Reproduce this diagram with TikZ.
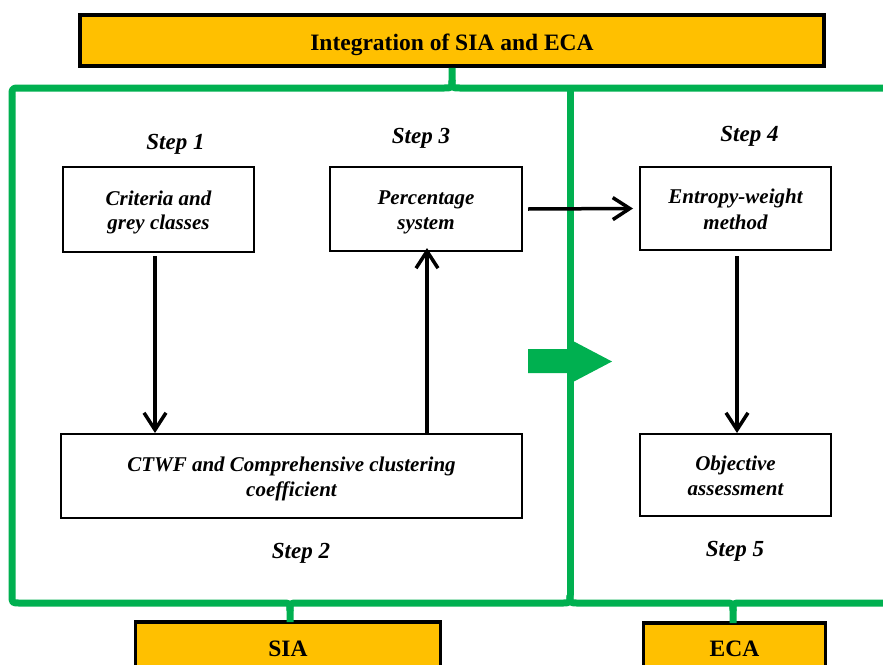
\documentclass[tikz,border=0pt]{standalone}
\usepackage{fontspec}
\setmainfont{Liberation Serif}
\usetikzlibrary{arrows.meta}
\definecolor{gbar}{HTML}{00B050}
\definecolor{ybox}{HTML}{FFC000}
\newcommand\lnstrut{\rule[-4pt]{0pt}{24pt}}
\tikzset{
  wbox/.style={draw=black, line width=2pt, fill=white, align=center, inner sep=0pt,
    font=\fontsize{21}{24}\selectfont\bfseries\itshape},
  ybbox/.style={draw=black, line width=3.5pt, fill=ybox, align=center, inner sep=0pt,
    text height=16pt, text depth=0pt, font=\fontsize{23.5}{26}\selectfont\bfseries},
  steplabel/.style={font=\fontsize{23}{26}\selectfont\bfseries\itshape, inner sep=0pt, anchor=base},
  flow/.style={line width=3.5pt, -{Straight Barb[length=17pt,width=22pt,line width=3.5pt]}},
  gline/.style={draw=gbar, line width=7pt, line join=round},
}
\begin{document}
\begin{tikzpicture}[x=1pt,y=-1pt]
\path[use as bounding box, clip] (0,0) rectangle (883,664);

% yellow boxes
\node[ybbox, minimum width=744pt, minimum height=51pt, text height=20pt] (top) at (452,40.5) {Integration of SIA and ECA};
\node[ybbox, minimum width=305pt, minimum height=52pt] (sia) at (288,648) {SIA};
\node[ybbox, minimum width=182pt, minimum height=52pt, text height=14pt] (eca) at (734.5,649) {ECA};

% green braces
\coordinate (tl) at (12,96);
\coordinate (tc) at (452,80);
\coordinate (mb) at (570,595);
\coordinate (sc) at (290,611);
\coordinate (ec) at (733,611);
\coordinate (siatop) at (290,622);
\coordinate (ecatop) at (733,623);

\draw[gline] (tl) .. controls (12,88) .. (20,88) -- (444,88) .. controls (452,88) .. (tc) -- (top.south);
\draw[gline] (tc) .. controls (452,88) .. (460,88) -- (900,88);
\draw[gline] (tl) -- (12,595) .. controls (12,603) .. (20,603) -- (282,603) .. controls (290,603) .. (sc) -- (siatop);
\draw[gline] (sc) .. controls (290,603) .. (298,603) -- (562,603) .. controls (570,603) .. (mb);
\draw[gline] (570,88) -- (mb);
\draw[gline] (mb) .. controls (570,603) .. (578,603) -- (725,603) .. controls (733,603) .. (ec) -- (ecatop);
\draw[gline] (ec) .. controls (733,603) .. (741,603) -- (900,603);

% big arrow
\fill[gbar] (528,349) -- (573,349) -- (573,341) -- (612,361.5) -- (573,382) -- (573,373) -- (528,373) -- cycle;

% boxes
\node[wbox, minimum width=191pt, minimum height=85pt] (crit) at (158.5,209.5) {\lnstrut Criteria and\\\lnstrut grey classes};
\node[wbox, minimum width=192pt, minimum height=84pt] (perc) at (426,209) {\lnstrut Percentage\\\lnstrut system};
\node[wbox, minimum width=191pt, minimum height=83pt] (entr) at (735.5,208.5) {\lnstrut Entropy-weight\\\lnstrut method};
\node[wbox, minimum width=461pt, minimum height=84pt] (ctwf) at (291.5,476) {\lnstrut CTWF and Comprehensive clustering\\\lnstrut coefficient};
\node[wbox, minimum width=191pt, minimum height=82pt] (obj) at (735.5,475) {\lnstrut Objective\\\lnstrut assessment};

% step labels
\node[steplabel] (s1) at (175.5,149) {Step 1};
\node[steplabel] (s3) at (421,143) {Step 3};
\node[steplabel] (s4) at (749.5,141.5) {Step 4};
\node[steplabel] (s2) at (301,558) {Step 2};
\node[steplabel] (s5) at (735,556) {Step 5};

% flow arrows
\coordinate (a1s) at (155,256);
\coordinate (a2s) at (427,434);
\coordinate (a4s) at (737,256);
\draw[flow] (a1s) -- (a1s |- ctwf.north);
\draw[flow] (a2s) -- ([yshift=4pt]a2s |- perc.south);
\draw[flow] ([xshift=5pt]perc.east) -- ([xshift=-6pt]entr.west);
\draw[flow] (a4s) -- (a4s |- obj.north);
\end{tikzpicture}
\end{document}
